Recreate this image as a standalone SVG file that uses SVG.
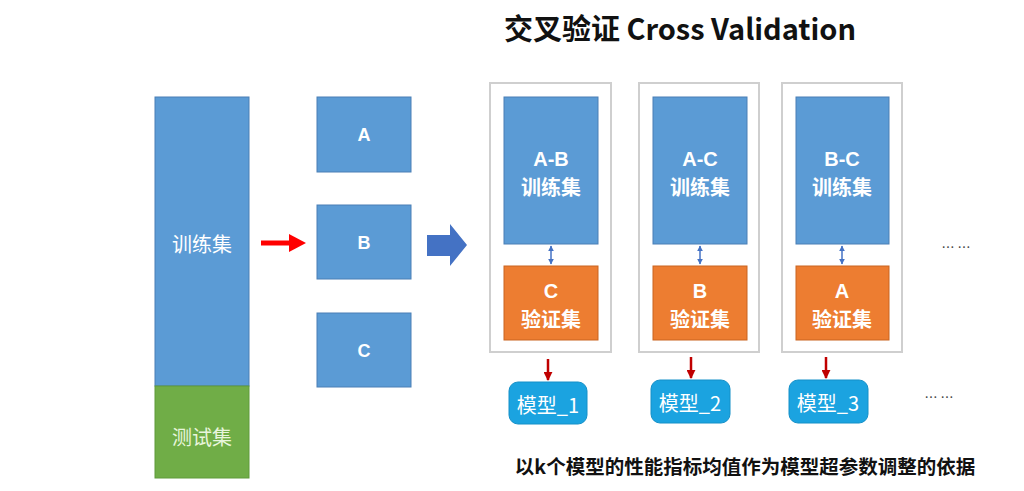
<svg xmlns="http://www.w3.org/2000/svg" width="1024" height="491" viewBox="0 0 1024 491">
<defs>
<style>
.t{font-family:"Noto Sans CJK SC","Liberation Sans",sans-serif;text-anchor:middle;dominant-baseline:central}
.l{font-family:"Liberation Sans","Noto Sans CJK SC",sans-serif}
.w{fill:#fff}
.b{font-weight:bold}
.blue{fill:#5b9bd5;stroke:#4a7fb5;stroke-width:1}
.org{fill:#ed7d31;stroke:#c96420;stroke-width:1}
.panel{fill:#fff;stroke:#cfcfcf;stroke-width:2}
.model{fill:#1ba3e0;stroke:#1590c8;stroke-width:1}
.dbl{stroke:#4472c4;stroke-width:1.5;fill:none;marker-start:url(#sa);marker-end:url(#sa)}
.dn{stroke:#c00000;stroke-width:2.5;fill:none;marker-end:url(#ra)}
</style>
<marker id="sa" viewBox="0 0 10 10" refX="9" refY="5" markerWidth="6" markerHeight="6" orient="auto-start-reverse" markerUnits="userSpaceOnUse"><path d="M0,0 L10,5 L0,10 z" fill="#4472c4"/></marker>
<marker id="ra" viewBox="0 0 10 10" refX="9" refY="5" markerWidth="9" markerHeight="9" orient="auto" markerUnits="userSpaceOnUse"><path d="M0,0 L10,5 L0,10 z" fill="#c00000"/></marker>
</defs>
<rect width="1024" height="491" fill="#fff"/>
<text id="title" x="680" y="27" class="t b" font-size="29" fill="#111">交叉验证 Cross Validation</text>

<g id="dataset">
<rect x="155" y="97" width="94" height="289" class="blue"/>
<text x="202" y="243" class="t w" font-size="20">训练集</text>
</g>
<g id="testset">
<rect x="155" y="386" width="94" height="92" fill="#70ad47" stroke="#5e9a3a"/>
<text x="202" y="436" class="t" font-size="20" fill="#e8f5dc">测试集</text>
</g>

<g id="foldA"><rect x="317" y="97" width="94" height="75" class="blue"/><text x="364" y="135" class="t l w b" font-size="18">A</text></g>
<g id="foldB"><rect x="317" y="205" width="94" height="74" class="blue"/><text x="364" y="243" class="t l w b" font-size="18">B</text></g>
<g id="foldC"><rect x="317" y="313" width="94" height="74" class="blue"/><text x="364" y="351" class="t l w b" font-size="18">C</text></g>

<g id="panel1">
<rect x="490" y="83" width="121" height="269" class="panel"/>
<rect x="504" y="97" width="94" height="147" class="blue"/>
<text x="551" y="159" class="t l w b" font-size="20">A-B</text>
<text x="551" y="186" class="t w b" font-size="20">训练集</text>
<rect x="504" y="266" width="94" height="74" class="org"/>
<text x="551" y="291" class="t l w b" font-size="20">C</text>
<text x="551" y="318" class="t w b" font-size="20">验证集</text>
</g>
<g id="panel2">
<rect x="639" y="83" width="120" height="269" class="panel"/>
<rect x="653" y="97" width="94" height="147" class="blue"/>
<text x="700" y="159" class="t l w b" font-size="20">A-C</text>
<text x="700" y="186" class="t w b" font-size="20">训练集</text>
<rect x="653" y="266" width="94" height="74" class="org"/>
<text x="700" y="291" class="t l w b" font-size="20">B</text>
<text x="700" y="318" class="t w b" font-size="20">验证集</text>
</g>
<g id="panel3">
<rect x="782" y="83" width="120" height="269" class="panel"/>
<rect x="796" y="97" width="93" height="147" class="blue"/>
<text x="842" y="159" class="t l w b" font-size="20">B-C</text>
<text x="842" y="186" class="t w b" font-size="20">训练集</text>
<rect x="796" y="266" width="93" height="74" class="org"/>
<text x="842" y="291" class="t l w b" font-size="20">A</text>
<text x="842" y="318" class="t w b" font-size="20">验证集</text>
</g>

<g id="model1"><rect x="509" y="382" width="78" height="42" rx="9" class="model"/><text x="548" y="404" class="t w" font-size="20">模型_1</text></g>
<g id="model2"><rect x="651" y="380" width="79" height="43" rx="9" class="model"/><text x="690" y="402" class="t w" font-size="20">模型_2</text></g>
<g id="model3"><rect x="789" y="380" width="79" height="43" rx="9" class="model"/><text x="828" y="402" class="t w" font-size="20">模型_3</text></g>

<text id="dots1" x="956" y="246" class="t" font-size="13" fill="#444">… …</text>
<text id="dots2" x="939" y="396" class="t" font-size="13" fill="#444">… …</text>

<g id="connectors">
<path d="M261,243 H292" stroke="#ff0000" stroke-width="5" fill="none"/>
<path d="M289,234 L306,243 L289,252 z" fill="#ff0000"/>
<path d="M427,235 H450 V224 L467,245 L450,266 V256 H427 z" fill="#4472c4"/>
<line x1="551" y1="246" x2="551" y2="264" class="dbl"/>
<line x1="700" y1="246" x2="700" y2="264" class="dbl"/>
<line x1="842" y1="246" x2="842" y2="264" class="dbl"/>
<line x1="548" y1="359" x2="548" y2="380" class="dn"/>
<line x1="691" y1="357" x2="691" y2="378" class="dn"/>
<line x1="826" y1="357" x2="826" y2="378" class="dn"/>
</g>

<text id="note" x="745" y="465" class="t b" font-size="19.5" fill="#111">以k个模型的性能指标均值作为模型超参数调整的依据</text>
</svg>
